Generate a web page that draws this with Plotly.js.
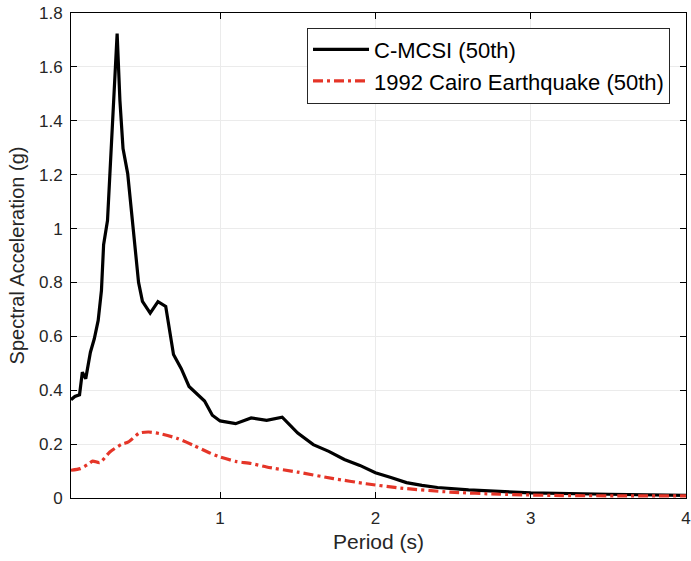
<!DOCTYPE html>
<html>
<head>
<meta charset="utf-8">
<script src="https://cdn.plot.ly/plotly-3.0.1.min.js"></script>
<style>html,body{margin:0;padding:0;background:#fff;}#chart{width:691px;height:561px;}</style>
</head>
<body>
<div id="chart"></div>
<script>
// C-MCSI (50th)
const cmcsiPeriod = [0.04,0.065,0.095,0.113,0.135,0.165,0.19,0.215,0.236,0.25,0.275,0.337,0.355,0.375,0.405,0.43,0.455,0.475,0.5,0.55,0.6,0.65,0.7,0.75,0.8,0.85,0.9,0.95,1.0,1.1,1.2,1.3,1.4,1.5,1.6,1.7,1.8,1.9,2.0,2.1,2.2,2.3,2.4,2.6,2.8,3.0,3.5,4.0];
const cmcsiSa = [0.365,0.377,0.383,0.467,0.443,0.541,0.591,0.659,0.77,0.94,1.03,1.724,1.475,1.297,1.204,1.055,0.89,0.80,0.73,0.686,0.729,0.711,0.533,0.48,0.414,0.387,0.36,0.307,0.286,0.276,0.297,0.288,0.30,0.241,0.198,0.173,0.143,0.121,0.094,0.076,0.057,0.047,0.039,0.030,0.024,0.019,0.014,0.010];
// 1992 Cairo Earthquake (50th)
const cairoPeriod = [0.04,0.1,0.15,0.18,0.225,0.29,0.365,0.41,0.48,0.54,0.61,0.72,0.83,0.93,1.0,1.1,1.2,1.3,1.5,1.73,1.94,2.16,2.48,2.8,3.2,3.6,4.0];
const cairoSa = [0.103,0.109,0.125,0.137,0.131,0.171,0.199,0.208,0.241,0.245,0.239,0.222,0.195,0.168,0.152,0.136,0.128,0.115,0.096,0.072,0.053,0.037,0.022,0.014,0.009,0.008,0.008];
const xTicks = [1,2,3,4];
const yTicks = [0,0.2,0.4,0.6,0.8,1,1.2,1.4,1.6,1.8];
const yTickText = ['0','0.2','0.4','0.6','0.8','1','1.2','1.4','1.6','1.8'];

const font = 'Arial, "Liberation Sans", Helvetica, sans-serif';
const traces = [
  {x: cmcsiPeriod, y: cmcsiSa, type: 'scatter', mode: 'lines', name: 'C-MCSI (50th)',
   line: {color: '#000000', width: 3.2}},
  {x: cairoPeriod, y: cairoSa, type: 'scatter', mode: 'lines', name: '1992 Cairo Earthquake (50th)',
   line: {color: '#e53528', width: 3.2, dash: '10px,4px,3px,4px', shape: 'spline', smoothing: 0.6}}
];
const axisCommon = {
  showline: true, linecolor: '#000', linewidth: 1, mirror: 'ticks',
  ticks: 'inside', ticklen: 6, tickcolor: '#000', tickwidth: 1,
  showgrid: true, gridcolor: '#ebebeb', gridwidth: 1, zeroline: false,
  tickfont: {family: font, size: 17, color: '#262626'}
};
const layout = {
  width: 691, height: 561,
  margin: {l: 71, r: 5, t: 13, b: 63},
  paper_bgcolor: '#fff', plot_bgcolor: '#fff',
  font: {family: font, color: '#262626'},
  showlegend: true,
  xaxis: Object.assign({}, axisCommon, {
    range: [0.04, 4], tickvals: xTicks, ticktext: xTicks.map(String),
    ticklabelstandoff: 5,
    title: {text: 'Period (s)', font: {family: font, size: 21, color: '#262626'}, standoff: 6}
  }),
  yaxis: Object.assign({}, axisCommon, {
    range: [0, 1.8], tickvals: yTicks, ticktext: yTickText,
    ticklabelstandoff: 4,
    title: {text: 'Spectral Acceleration (g)', font: {family: font, size: 20, color: '#262626'}, standoff: 8}
  }),
  legend: {
    x: 0.974, y: 0.970, xanchor: 'right', yanchor: 'top',
    bgcolor: '#fff', bordercolor: '#262626', borderwidth: 1,
    font: {family: font, size: 22, color: '#000'},
    itemwidth: 56, tracegroupgap: 0
  }
};
Plotly.newPlot('chart', traces, layout, {displayModeBar: false, staticPlot: true});
</script>
</body>
</html>
